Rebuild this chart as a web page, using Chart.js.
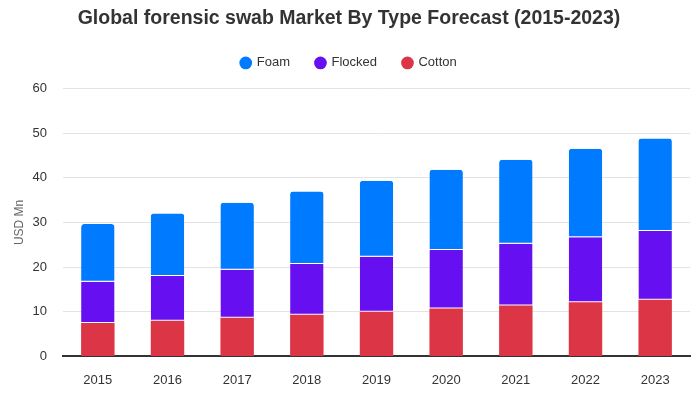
<!DOCTYPE html>
<html>
<head>
<meta charset="utf-8">
<script src="https://cdn.jsdelivr.net/npm/chart.js@4/dist/chart.umd.min.js"></script>
<style>
html,body{margin:0;padding:0;background:#fff;}
#wrap{width:700px;height:400px;position:relative;}
</style>
</head>
<body>
<div id="wrap"><canvas id="c" width="700" height="400"></canvas></div>
<script>
const categories = ['2015','2016','2017','2018','2019','2020','2021','2022','2023'];
const cotton  = [7.5, 8.0, 8.65, 9.3, 10.0, 10.7, 11.4, 12.1, 12.7];
const flocked = [9.2, 10.0, 10.75, 11.4, 12.3, 13.1, 13.8, 14.6, 15.4];
const foam    = [12.95, 14.0, 15.0, 16.2, 17.0, 18.0, 18.8, 19.8, 20.7];
const yTicks  = [0, 10, 20, 30, 40, 50, 60];

Chart.defaults.font.family = '"Liberation Sans", Arial, sans-serif';
Chart.defaults.color = '#333';

const legendMargin = {
  id:'legendMargin',
  beforeInit(chart){
    const f = chart.legend.fit;
    chart.legend.fit = function(){ f.bind(chart.legend)(); this.height += 9; };
  }
};

new Chart(document.getElementById('c'), {
  type: 'bar',
  data: {
    labels: categories,
    datasets: [
      {label:'Cotton', data: cotton, backgroundColor:'#dc3545', borderWidth:0},
      {label:'Flocked', data: flocked, backgroundColor:'#6610f2', borderColor:'#ffffff', borderWidth:{top:0,bottom:1,left:0,right:0}, borderSkipped:false},
      {label:'Foam', data: foam, backgroundColor:'#007bff', borderColor:'#ffffff', borderWidth:{top:0,bottom:1,left:0,right:0}, borderSkipped:false, borderRadius:{topLeft:3,topRight:3,bottomLeft:0,bottomRight:0}}
    ]
  },
  plugins:[legendMargin],
  options: {
    responsive:false,
    animation:false,
    datasets:{bar:{barPercentage:0.6, categoryPercentage:0.8}},
    layout:{padding:{left:8,right:10,top:0,bottom:2}},
    plugins:{
      title:{display:true, text:'Global forensic swab Market By Type Forecast (2015-2023)', color:'#333', font:{size:19.5, weight:'bold'}, padding:{top:7,bottom:0}},
      legend:{
        labels:{usePointStyle:true, pointStyle:'circle', boxWidth:9, boxHeight:9, padding:26, color:'#333', font:{size:13},
          generateLabels(chart){
            const ds = chart.data.datasets;
            return ['Foam','Flocked','Cotton'].map(n=>{
              const i = ds.findIndex(d=>d.label===n);
              return {text:n, fillStyle:ds[i].backgroundColor, strokeStyle:ds[i].backgroundColor, lineWidth:0, pointStyle:'circle', datasetIndex:i, hidden:false, fontColor:'#333'};
            });
          }
        },
        onClick:null
      },
      tooltip:{enabled:false}
    },
    scales:{
      x:{stacked:true, afterFit(ax){ ax.height -= 6; }, grid:{display:false, drawTicks:false}, border:{display:true, color:'#333', width:2}, ticks:{color:'#333', font:{size:13}, padding:16}},
      y:{stacked:true, min:0, max:60, afterBuildTicks(ax){ax.ticks = yTicks.map(v=>({value:v}));},
         afterFit(ax){ ax.width = 55; },
         grid:{color:'#e3e3e3', drawTicks:false}, border:{display:false},
         ticks:{color:'#333', font:{size:13}, padding:16},
         title:{display:true, text:'USD Mn', color:'#666', font:{size:12}, padding:{bottom:4}}}
    }
  }
});
</script>
</body>
</html>
